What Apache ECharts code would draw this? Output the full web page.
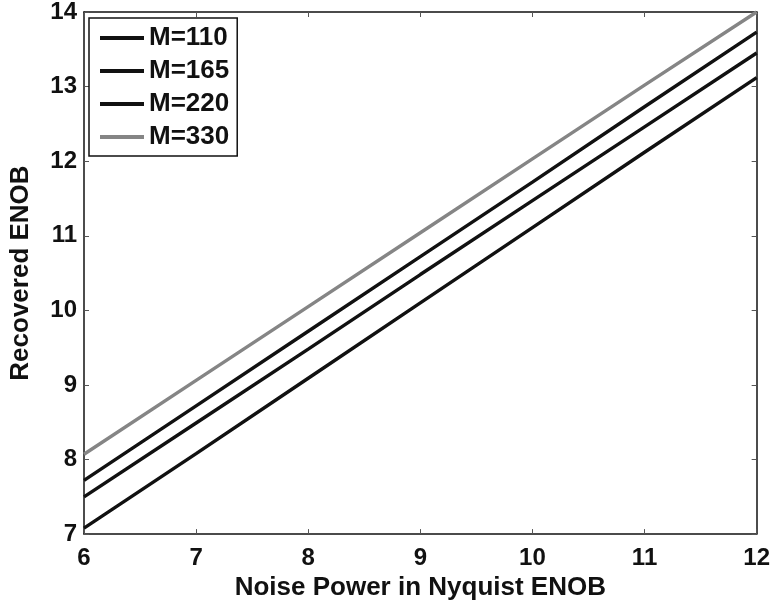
<!DOCTYPE html>
<html>
<head>
<meta charset="utf-8">
<script src="https://cdn.jsdelivr.net/npm/echarts@6/dist/echarts.min.js"></script>
<style>
  html, body { margin: 0; padding: 0; background: #fff; }
  #chart { width: 773px; height: 606px; }
</style>
</head>
<body>
<div id="chart"></div>
<script>
// Noise power (Nyquist ENOB) on the x axis
const noiseEnob = [6, 7, 8, 9, 10, 11, 12];
const xTicks = [6, 7, 8, 9, 10, 11, 12];
const yTicks = [7, 8, 9, 10, 11, 12, 13, 14];

// Recovered ENOB for each M
const seriesNames = ['M=110', 'M=165', 'M=220', 'M=330'];
const m110 = [7.08, 8.08, 9.09, 10.10, 11.11, 12.12, 13.12];
const m165 = [7.50, 8.49, 9.48, 10.48, 11.47, 12.46, 13.45];
const m220 = [7.72, 8.72, 9.72, 10.72, 11.72, 12.73, 13.73];
const m330 = [8.07, 9.06, 10.05, 11.04, 12.03, 13.02, 14.00];

const seriesValues = [m110, m165, m220, m330];
const seriesColors = ['#111111', '#111111', '#111111', '#858585'];

const FONT = '"Liberation Sans", Arial, Helvetica, sans-serif';
const INK = '#111111';

const chart = echarts.init(document.getElementById('chart'), null, { renderer: 'canvas' });

function pairs(ys) {
  return noiseEnob.map((x, i) => [x, ys[i]]);
}

const axisLineStyle = { show: true, onZero: false, lineStyle: { color: INK, width: 1.5 } };
const tickStyle = { show: true, inside: true, length: 5, lineStyle: { color: '#555', width: 1 } };

const option = {
  animation: false,
  backgroundColor: '#ffffff',
  grid: { left: 82, right: 16, top: 12, bottom: 68, containLabel: false },
  legend: {
    data: seriesNames,
    orient: 'vertical',
    left: 89,
    top: 18,
    padding: [7, 8, 6, 11],
    itemGap: 7,
    itemWidth: 44,
    itemHeight: 4,
    icon: 'rect',
    backgroundColor: '#ffffff',
    borderColor: INK,
    borderWidth: 1.5,
    borderRadius: 0,
    textStyle: { fontFamily: FONT, fontWeight: 'bold', fontSize: 26, color: INK }
  },
  xAxis: [
    {
      type: 'value',
      min: xTicks[0],
      max: xTicks[xTicks.length - 1],
      interval: 1,
      name: 'Noise Power in Nyquist ENOB',
      nameLocation: 'middle',
      nameGap: 30,
      nameTextStyle: { fontFamily: FONT, fontWeight: 'bold', fontSize: 26, color: INK },
      axisLine: axisLineStyle,
      axisTick: tickStyle,
      axisLabel: { fontFamily: FONT, fontWeight: 'bold', fontSize: 24, color: INK, margin: 12 },
      splitLine: { show: false }
    },
    {
      type: 'value',
      position: 'top',
      min: xTicks[0],
      max: xTicks[xTicks.length - 1],
      interval: 1,
      axisLine: axisLineStyle,
      axisTick: tickStyle,
      axisLabel: { show: false },
      splitLine: { show: false }
    }
  ],
  yAxis: [
    {
      type: 'value',
      min: yTicks[0],
      max: yTicks[yTicks.length - 1],
      interval: 1,
      name: 'Recovered ENOB',
      nameLocation: 'middle',
      nameGap: 50,
      nameRotate: 90,
      nameTextStyle: { fontFamily: FONT, fontWeight: 'bold', fontSize: 26, color: INK },
      axisLine: axisLineStyle,
      axisTick: tickStyle,
      axisLabel: { fontFamily: FONT, fontWeight: 'bold', fontSize: 24, color: INK, margin: 7 },
      splitLine: { show: false }
    },
    {
      type: 'value',
      position: 'right',
      min: yTicks[0],
      max: yTicks[yTicks.length - 1],
      interval: 1,
      axisLine: axisLineStyle,
      axisTick: tickStyle,
      axisLabel: { show: false },
      splitLine: { show: false }
    }
  ],
  series: seriesNames.map((name, i) => ({
    name: name,
    type: 'line',
    xAxisIndex: 0,
    yAxisIndex: 0,
    data: pairs(seriesValues[i]),
    symbol: 'none',
    showSymbol: false,
    itemStyle: { color: seriesColors[i] },
    lineStyle: { color: seriesColors[i], width: 3.4 },
    z: 3
  }))
};

chart.setOption(option);
</script>
</body>
</html>
